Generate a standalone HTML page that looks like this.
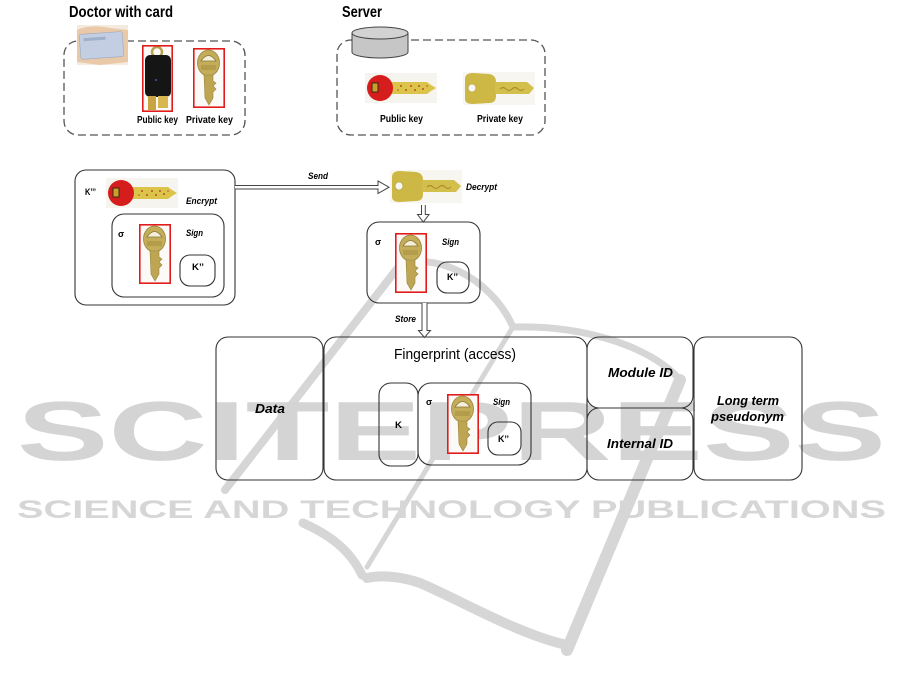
<!DOCTYPE html>
<html><head><meta charset="utf-8"><style>
html,body{margin:0;padding:0;background:#fff;}
svg{display:block;}
text{font-family:"Liberation Sans",sans-serif;}
</style></head><body>
<svg width="901" height="690" viewBox="0 0 901 690" xmlns="http://www.w3.org/2000/svg">
<defs>
 <g id="vkey">
  <rect x="0" y="0" width="32" height="60" fill="#fbfaf6"/>
  <ellipse cx="15.5" cy="15" rx="11" ry="13" fill="#c4ad58" stroke="#9a8540" stroke-width="0.8"/>
  <path d="M8,13 Q15.5,2 23,13 Z" fill="#f4efd8" stroke="#8a7535" stroke-width="0.8"/>
  <rect x="8" y="17" width="15" height="5" fill="#b39c4a"/>
  <path d="M11,27 L20,27 L20,33 L23,35 L20,38 L23,41 L20,44 L20,50 L16,57 L12,50 Z" fill="#bda551" stroke="#9a8540" stroke-width="0.6"/>
  <rect x="0.8" y="0.8" width="30.4" height="58.4" fill="none" stroke="#e21b1b" stroke-width="1.6"/>
 </g>
 <g id="rkey">
  <rect width="72" height="30" fill="#f6f4ee"/>
  <path d="M24,9 L62,9 L66,12 L71,15 L66,18 L62,21 L24,21 Z" fill="#dcc34a"/>
  <g fill="#b5532a">
   <circle cx="36" cy="13" r="1"/><circle cx="41" cy="17" r="1"/><circle cx="46" cy="13" r="1"/>
   <circle cx="50" cy="17" r="1"/><circle cx="54" cy="13" r="1"/><circle cx="58" cy="16" r="1"/>
   <circle cx="33" cy="17" r="0.8"/><circle cx="62" cy="13" r="0.8"/>
  </g>
  <circle cx="15" cy="15" r="13" fill="#d61d1d"/>
  <rect x="7" y="10" width="6" height="9" fill="#c8a030" stroke="#3a2a10" stroke-width="1"/>
 </g>
 <g id="gkey">
  <rect width="72" height="33" fill="#f7f6f0"/>
  <path d="M2,7 Q2,1 10,1 L26,2 Q33,3 33,10 L33,24 Q33,31 26,31 L10,32 Q2,32 2,27 Z" fill="#cdb845"/>
  <circle cx="9" cy="16" r="4" fill="#f7f6f0" stroke="#a89535" stroke-width="0.6"/>
  <path d="M32,10 L64,10 L71,16 L66,22 L32,22 Z" fill="#d3c04c"/>
  <path d="M37,17 q3,-3 6,0 t6,0 t6,0 t6,0" stroke="#b08a30" stroke-width="1.2" fill="none"/>
 </g>
</defs>

<!-- watermark -->
<g fill="none" stroke="#d6d6d6" stroke-linecap="round" stroke-linejoin="round">
 <path d="M225,490 L400,265" stroke-width="8"/>
 <path d="M398,267 C430,250 490,275 513,327" stroke-width="7"/>
 <path d="M513,327 C580,325 650,345 680,380" stroke-width="7"/>
 <path d="M680,380 L567,650" stroke-width="12"/>
 <path d="M567,645 C520,635 460,600 420,583 C400,576 380,575 367,578" stroke-width="10"/>
 <path d="M303,523 C330,535 350,550 362,575" stroke-width="9"/>
 <path d="M367,567 L513,327" stroke-width="5"/>
</g>
<text x="17" y="460" textLength="869" lengthAdjust="spacingAndGlyphs" font-size="84" font-weight="bold" fill="#d4d4d4">SCITEPRESS</text>
<text x="17" y="518" textLength="869" lengthAdjust="spacingAndGlyphs" font-size="25" font-weight="bold" fill="#d6d6d6">SCIENCE AND TECHNOLOGY PUBLICATIONS</text>

<!-- titles -->
<text x="69" y="17" textLength="104" lengthAdjust="spacingAndGlyphs" font-size="16" font-weight="bold">Doctor with card</text>
<text x="342" y="17" textLength="40" lengthAdjust="spacingAndGlyphs" font-size="16" font-weight="bold">Server</text>

<!-- dashed boxes -->
<rect x="64" y="41" width="181" height="94" rx="14" fill="none" stroke="#555" stroke-width="1.3" stroke-dasharray="8 4"/>
<rect x="337" y="40" width="208" height="95" rx="14" fill="none" stroke="#555" stroke-width="1.3" stroke-dasharray="8 4"/>

<!-- card -->
<rect x="77" y="25" width="51" height="40" fill="#f4ebe0"/>
<path d="M77,30 Q90,24 110,28 L128,30 L128,62 L100,65 L77,62 Z" fill="#e9c9a8"/>
<rect x="80" y="33" width="43" height="25" rx="2" fill="#c3cee2" stroke="#9aa8c0" stroke-width="0.6" transform="rotate(-4 101 45)"/>
<rect x="84" y="37" width="22" height="3" fill="#9fb0cc" transform="rotate(-4 101 45)"/>

<!-- doctor public key (black) -->
<rect x="142" y="45" width="31" height="67" fill="#fbfaf6"/>
<ellipse cx="157" cy="52" rx="5" ry="5" fill="none" stroke="#b9a050" stroke-width="2.5"/>
<rect x="145" y="55" width="26" height="42" rx="5" fill="#151515"/>
<circle cx="156" cy="80" r="1" fill="#3a5fb0"/>
<rect x="148" y="96" width="8" height="14" fill="#c9a445"/>
<rect x="158" y="96" width="10" height="12" fill="#d8b650"/>
<rect x="142.8" y="45.8" width="29.4" height="65.4" fill="none" stroke="#e21b1b" stroke-width="1.6"/>
<use href="#vkey" x="193" y="48"/>
<text x="137" y="123" textLength="41" lengthAdjust="spacingAndGlyphs" font-size="10" font-weight="bold">Public key</text>
<text x="186" y="123" textLength="47" lengthAdjust="spacingAndGlyphs" font-size="10" font-weight="bold">Private key</text>

<!-- server -->
<path d="M352,33 L352,52 A28,6 0 0 0 408,52 L408,33" fill="#c6c6c6" stroke="#444" stroke-width="1"/>
<ellipse cx="380" cy="33" rx="28" ry="6" fill="#d2d2d2" stroke="#444" stroke-width="1"/>
<use href="#rkey" x="365" y="73"/>
<use href="#gkey" x="463" y="72"/>
<text x="380" y="122" textLength="43" lengthAdjust="spacingAndGlyphs" font-size="10" font-weight="bold">Public key</text>
<text x="477" y="122" textLength="46" lengthAdjust="spacingAndGlyphs" font-size="10" font-weight="bold">Private key</text>

<!-- boxes -->
<g fill="none" stroke="#333" stroke-width="1.1">
 <rect x="75" y="170" width="160" height="135" rx="11"/>
 <rect x="112" y="214" width="112" height="83" rx="12"/>
 <rect x="180" y="255" width="35" height="31" rx="10"/>
 <rect x="367" y="222" width="113" height="81" rx="12"/>
 <rect x="437" y="262" width="32" height="31" rx="10"/>
 <rect x="216" y="337" width="107" height="143" rx="12"/>
 <rect x="324" y="337" width="263" height="143" rx="12"/>
 <rect x="587" y="337" width="106" height="71" rx="12"/>
 <rect x="587" y="408" width="106" height="72" rx="12"/>
 <rect x="694" y="337" width="108" height="143" rx="12"/>
 <rect x="379" y="383" width="39" height="83" rx="12"/>
 <rect x="418" y="383" width="113" height="82" rx="13"/>
 <rect x="488" y="422" width="33" height="33" rx="10"/>
</g>
<use href="#rkey" x="106" y="178"/>
<use href="#vkey" x="139" y="224"/>
<text x="85" y="195" textLength="11" lengthAdjust="spacingAndGlyphs" font-size="9" font-weight="bold">K’’’</text>
<text x="186" y="204" textLength="31" lengthAdjust="spacingAndGlyphs" font-size="9" font-weight="bold" font-style="italic">Encrypt</text>
<text x="118" y="237" font-size="9" font-weight="bold">σ</text>
<text x="186" y="236" textLength="17" lengthAdjust="spacingAndGlyphs" font-size="9" font-weight="bold" font-style="italic">Sign</text>
<text x="192" y="270" textLength="12" lengthAdjust="spacingAndGlyphs" font-size="9" font-weight="bold">K’’</text>

<!-- send arrow -->
<path d="M235,185.5 L378,185.5 L378,181 L389,187.2 L378,193.5 L378,189 L235,189" fill="#fff" stroke="#444" stroke-width="1"/>
<text x="308" y="179" textLength="20" lengthAdjust="spacingAndGlyphs" font-size="9" font-weight="bold" font-style="italic">Send</text>
<use href="#gkey" x="390" y="170"/>
<text x="466" y="190" textLength="31" lengthAdjust="spacingAndGlyphs" font-size="9" font-weight="bold" font-style="italic">Decrypt</text>

<!-- down arrow -->
<path d="M421.5,205 L421.5,214.5 L417.5,214.5 L423.3,222 L429,214.5 L425.3,214.5 L425.3,205" fill="#fff" stroke="#444" stroke-width="1"/>

<!-- middle sign box -->
<use href="#vkey" x="395" y="233"/>
<text x="375" y="245" font-size="9" font-weight="bold">σ</text>
<text x="442" y="245" textLength="17" lengthAdjust="spacingAndGlyphs" font-size="9" font-weight="bold" font-style="italic">Sign</text>
<text x="447" y="280" textLength="11" lengthAdjust="spacingAndGlyphs" font-size="9" font-weight="bold">K’’</text>

<!-- store arrow -->
<path d="M422,303 L422,330.5 L418.5,330.5 L424.5,337.5 L430.5,330.5 L427,330.5 L427,303" fill="#fff" stroke="#444" stroke-width="1"/>
<text x="395" y="322" textLength="21" lengthAdjust="spacingAndGlyphs" font-size="9" font-weight="bold" font-style="italic">Store</text>

<!-- bottom row -->
<text x="255" y="413" textLength="30" lengthAdjust="spacingAndGlyphs" font-size="13" font-weight="bold" font-style="italic">Data</text>
<text x="394" y="359" textLength="122" lengthAdjust="spacingAndGlyphs" font-size="15">Fingerprint (access)</text>
<text x="395" y="428" textLength="7" lengthAdjust="spacingAndGlyphs" font-size="9" font-weight="bold">K</text>
<use href="#vkey" x="447" y="394"/>
<text x="426" y="405" font-size="9" font-weight="bold">σ</text>
<text x="493" y="405" textLength="17" lengthAdjust="spacingAndGlyphs" font-size="9" font-weight="bold" font-style="italic">Sign</text>
<text x="498" y="442" textLength="11" lengthAdjust="spacingAndGlyphs" font-size="9" font-weight="bold">K’’</text>
<text x="608" y="377" textLength="65" lengthAdjust="spacingAndGlyphs" font-size="13" font-weight="bold" font-style="italic">Module ID</text>
<text x="607" y="448" textLength="66" lengthAdjust="spacingAndGlyphs" font-size="13" font-weight="bold" font-style="italic">Internal ID</text>
<text x="717" y="405" textLength="62" lengthAdjust="spacingAndGlyphs" font-size="13" font-weight="bold" font-style="italic">Long term</text>
<text x="711" y="421" textLength="73" lengthAdjust="spacingAndGlyphs" font-size="13" font-weight="bold" font-style="italic">pseudonym</text>
</svg>
</body></html>
